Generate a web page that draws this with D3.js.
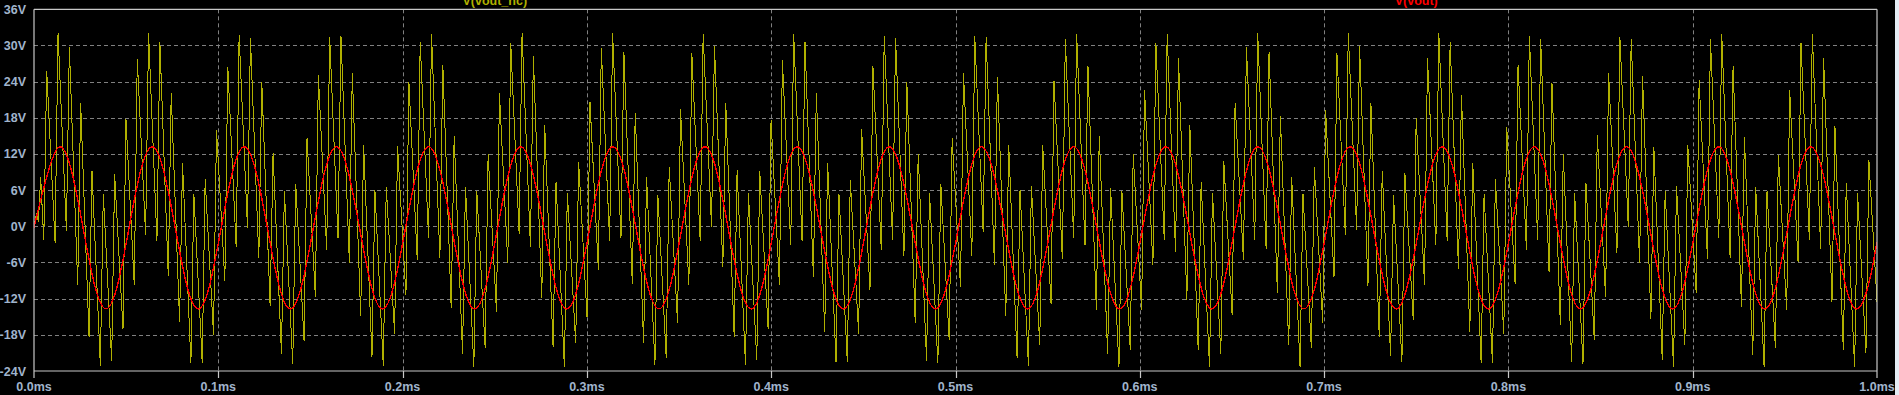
<!DOCTYPE html>
<html>
<head>
<meta charset="utf-8">
<script src="https://cdnjs.cloudflare.com/ajax/libs/d3/7.8.5/d3.min.js"></script>
<style>
  html, body { margin: 0; padding: 0; background: #000; overflow: hidden; }
  svg { display: block; }
</style>
</head>
<body>
<script>
// ---------- data ----------
const xTicks = [0.0, 0.1, 0.2, 0.3, 0.4, 0.5, 0.6, 0.7, 0.8, 0.9, 1.0];       // ms
const xTickLabels = ["0.0ms","0.1ms","0.2ms","0.3ms","0.4ms","0.5ms","0.6ms","0.7ms","0.8ms","0.9ms","1.0ms"];
const yTicks = [-24, -18, -12, -6, 0, 6, 12, 18, 24, 30, 36];                  // V
const yTickLabels = ["-24V","-18V","-12V","-6V","0V","6V","12V","18V","24V","30V","36V"];
const seriesNames = ["V(vout_nc)", "V(vout)"];

// V(vout): red 20 kHz sine, sampled every 1/8 period (first point at t=0, last at t=1ms)
const voutStart = 0.0016, voutStep = 0.00625;
const voutV = [-0.3,
  1.9, 9.2, 13.2, 9.2, -0.2, -9.7, -13.7, -9.7,
  -0.2, 9.2, 13.2, 9.2, -0.2, -9.7, -13.7, -9.7,
  -0.2, 9.2, 13.2, 9.2, -0.2, -9.7, -13.7, -9.7,
  -0.2, 9.2, 13.2, 9.2, -0.2, -9.7, -13.7, -9.7,
  -0.2, 9.2, 13.2, 9.2, -0.2, -9.7, -13.7, -9.7,
  -0.2, 9.2, 13.2, 9.2, -0.2, -9.7, -13.7, -9.7,
  -0.2, 9.2, 13.2, 9.2, -0.2, -9.7, -13.7, -9.7,
  -0.2, 9.2, 13.2, 9.2, -0.2, -9.7, -13.7, -9.7,
  -0.2, 9.2, 13.2, 9.2, -0.2, -9.7, -13.7, -9.7,
  -0.2, 9.2, 13.2, 9.2, -0.2, -9.7, -13.7, -9.7,
  -0.2, 9.2, 13.2, 9.2, -0.2, -9.7, -13.7, -9.7,
  -0.2, 9.2, 13.2, 9.2, -0.2, -9.7, -13.7, -9.7,
  -0.2, 9.2, 13.2, 9.2, -0.2, -9.7, -13.7, -9.7,
  -0.2, 9.2, 13.2, 9.2, -0.2, -9.7, -13.7, -9.7,
  -0.2, 9.2, 13.2, 9.2, -0.2, -9.7, -13.7, -9.7,
  -0.2, 9.2, 13.2, 9.2, -0.2, -9.7, -13.7, -9.7,
  -0.2, 9.2, 13.2, 9.2, -0.2, -9.7, -13.7, -9.7,
  -0.2, 9.2, 13.2, 9.2, -0.2, -9.7, -13.7, -9.7,
  -0.2, 9.2, 13.2, 9.2, -0.2, -9.7, -13.7, -9.7,
  -0.2, 9.2, 13.2, 9.2, -0.2, -9.7, -13.7, -9.7,
  -2.6];

// V(vout_nc): yellow trace, one peak and one trough per ripple cycle
const ncStartT = [0, 0.0014, 0.0024, 0.0036];
const ncStartV = [0, 2.2, 0.8, 8.2];
const ncFirstPeak = 0.0069, ncCycle = 0.006141, ncRise = 0.0016;
const ncPeaks = [
  25.8, 32.0, 29.8, 20.5, 9.2, 5.4, 8.7, 17.8, 27.7, 32.0, 30.5, 22.1, 10.5, 5.4, 7.8, 16.0,
  26.5, 31.7, 31.2, 24.0, 12.1, 5.8, 7.1, 14.6, 25.1, 31.4, 31.6, 25.4, 13.5, 6.0, 6.5, 13.3,
  24.0, 30.6, 31.9, 26.7, 15.0, 6.6, 5.9, 12.0, 22.1, 30.4, 32.0, 28.2, 16.8, 7.4, 5.6, 10.7,
  20.7, 29.5, 32.0, 28.9, 18.8, 8.2, 5.2, 9.9, 19.4, 28.7, 31.9, 29.9, 20.4, 9.3, 5.5, 9.1,
  17.6, 27.6, 31.9, 30.5, 22.1, 10.5, 5.4, 7.7, 16.1, 26.6, 31.6, 31.2, 23.9, 12.0, 5.6, 7.1,
  14.6, 25.4, 31.5, 31.4, 24.7, 13.5, 6.1, 6.7, 13.5, 24.1, 31.0, 31.9, 26.6, 15.0, 6.3, 5.9, 12.0,
  22.6, 30.4, 31.9, 27.9, 16.8, 7.4, 5.6, 10.9, 20.5, 29.7, 32.0, 29.0, 18.3, 8.2, 5.4, 9.9,
  19.3, 28.7, 32.0, 29.9, 20.4, 9.2, 5.2, 8.9, 17.9, 27.9, 32.0, 30.5, 21.8, 10.5, 5.4, 7.8,
  16.5, 26.8, 31.6, 31.0, 23.7, 12.0, 5.5, 7.2, 15.2, 25.5, 31.4, 31.0, 24.9, 13.2, 5.9, 6.7,
  13.5, 24.2, 31.0, 31.9, 26.6, 14.8, 6.5, 5.9, 11.8, 22.6, 30.4, 31.9, 27.9, 16.6, 7.2, 5.5, 11.0
];
const ncTroughs = [
  -2.2, -2.7, -0.7, -9.8, -18.4, -23.1, -22.3, -17.1, -9.8, -1.5, -2.4, -8.2, -15.8, -22.7, -22.6, -18.0,
  -9.0, -3.5, -0.3, -5.3, -13.2, -21.1, -22.8, -19.0, -11.7, -4.0, -2.0, -6.0, -14.9, -21.6, -23.1, -17.8,
  -11.4, -5.6, -2.0, -5.3, -13.6, -21.1, -23.3, -20.2, -14.2, -6.1, -1.2, -3.4, -11.9, -20.0, -23.4, -19.4,
  -15.0, -7.2, -2.5, -2.0, -9.5, -19.4, -23.0, -21.9, -16.1, -9.7, -2.5, -0.1, -6.7, -18.3, -23.0, -22.2,
  -17.0, -9.7, -3.1, -2.5, -8.4, -17.5, -22.5, -22.5, -17.8, -10.6, -3.9, -2.3, -5.0, -16.1, -22.3, -22.7,
  -18.9, -10.0, -4.9, -0.9, -6.4, -14.9, -21.9, -23.2, -19.7, -12.9, -5.5, -2.0, -3.1, -13.8, -21.2, -23.3, -20.5,
  -13.9, -6.4, -2.2, -4.2, -12.2, -20.5, -23.4, -21.1, -14.7, -5.6, -2.2, -3.7, -11.1, -19.7, -23.3, -20.2,
  -16.0, -8.4, -1.4, -0.6, -9.9, -18.4, -21.5, -22.5, -15.5, -9.7, -3.1, -2.5, -7.1, -17.6, -22.7, -22.6,
  -17.8, -9.5, -3.9, -2.3, -7.5, -16.4, -22.5, -22.8, -18.9, -11.8, -4.5, -0.1, -6.1, -15.3, -22.1, -23.3,
  -19.7, -11.1, -5.5, -2.0, -5.3, -13.3, -21.4, -23.3, -20.2, -13.9, -5.9, -2.2, -3.7, -12.5, -20.5, -23.4, -21.0
];
const ncEndT = 1.0, ncEndV = -12.5;

// ---------- build point lists ----------
const voutPts = voutV.map((v, i) => {
  let t;
  if (i === 0) t = 0;
  else if (i === voutV.length - 1) t = 1.0;
  else t = voutStart + (i - 1) * voutStep;
  return [t, v];
});
const ncPts = ncStartT.map((t, i) => [t, ncStartV[i]]);
ncPeaks.forEach((p, n) => {
  const tp = ncFirstPeak + n * ncCycle;
  ncPts.push([tp - ncRise, ncTroughs[n]]);
  ncPts.push([tp, p]);
});
ncPts.push([ncEndT, ncEndV]);

// ---------- drawing ----------
const W = 1899, H = 395;
const pLeft = 34, pRight = 1877, pTop = 9.33, pBottom = 371;
const COL_AXIS = "#c8c8c8", COL_GRID = "#808080", COL_TEXT = "#a0b4cc";
const COL_NC = "#b0b000", COL_OUT = "#ff0000";
const FONT = "'Liberation Sans', Arial, sans-serif";

const svg = d3.select("body").append("svg").attr("width", W).attr("height", H);
svg.append("rect").attr("width", W).attr("height", H).attr("fill", "#000");
svg.append("rect").attr("x", 1895).attr("y", 0).attr("width", 4).attr("height", H).attr("fill", "#e4ecf4");

const x = d3.scaleLinear().domain([0, 1]).range([pLeft, pRight]);
const y = d3.scaleLinear().domain([-24, 36]).range([pBottom, pTop]);

// grid
const grid = svg.append("g").attr("stroke", COL_GRID).attr("stroke-width", 1).attr("stroke-dasharray", "4,3");
grid.selectAll("line.h").data(yTicks.slice(1, -1)).join("line")
  .attr("x1", pLeft).attr("x2", pRight)
  .attr("y1", d => Math.round(y(d)) + 0.5).attr("y2", d => Math.round(y(d)) + 0.5);
grid.selectAll("line.v").data(xTicks.slice(1, -1)).join("line")
  .attr("y1", pTop).attr("y2", pBottom)
  .attr("x1", d => Math.round(x(d)) + 0.5).attr("x2", d => Math.round(x(d)) + 0.5);

// traces (no anti-aliasing, like the simulator's plot window)
svg.append("clipPath").attr("id", "clip").append("rect")
  .attr("x", pLeft).attr("y", pTop).attr("width", pRight - pLeft).attr("height", pBottom - pTop);
const plot = svg.append("g").attr("clip-path", "url(#clip)");
const lineNc = d3.line().x(d => x(d[0])).y(d => y(d[1]));
const lineOut = d3.line().x(d => x(d[0])).y(d => y(d[1])).curve(d3.curveNatural);
plot.append("path").datum(ncPts).attr("d", lineNc)
  .attr("fill", "none").attr("stroke", COL_NC).attr("stroke-width", 1)
  .attr("shape-rendering", "crispEdges");
plot.append("path").datum(voutPts).attr("d", lineOut)
  .attr("fill", "none").attr("stroke", COL_OUT).attr("stroke-width", 1.4)
  .attr("shape-rendering", "crispEdges");

// frame and axes
const frame = svg.append("g").attr("stroke", COL_AXIS).attr("stroke-width", 1.2).attr("fill", "none");
frame.append("line").attr("x1", pLeft).attr("x2", pRight).attr("y1", pTop).attr("y2", pTop);
frame.append("line").attr("x1", pLeft).attr("x2", pRight).attr("y1", pBottom).attr("y2", pBottom);
frame.append("line").attr("x1", pLeft).attr("x2", pLeft).attr("y1", pTop).attr("y2", pBottom + 7);
frame.append("line").attr("x1", pRight).attr("x2", pRight).attr("y1", pTop).attr("y2", pBottom + 7);
frame.selectAll("line.tick").data(xTicks.slice(1, -1)).join("line")
  .attr("x1", d => Math.round(x(d)) + 0.5).attr("x2", d => Math.round(x(d)) + 0.5)
  .attr("y1", pBottom).attr("y2", pBottom + 7);

// tick labels
svg.append("g").selectAll("text").data(yTicks).join("text")
  .attr("x", 26).attr("y", d => y(d)).attr("dy", "0.36em")
  .attr("text-anchor", "end").attr("fill", COL_TEXT)
  .attr("font-family", FONT).attr("font-size", "12.5px").attr("font-weight", "bold")
  .text((d, i) => yTickLabels[i]);
svg.append("g").selectAll("text").data(xTicks).join("text")
  .attr("x", d => x(d)).attr("y", 391)
  .attr("text-anchor", "middle").attr("fill", COL_TEXT)
  .attr("font-family", FONT).attr("font-size", "12.5px").attr("font-weight", "bold")
  .text((d, i) => xTickLabels[i]);

// trace names (partly cut at top as in the reference)
svg.append("text").attr("x", x(0.25)).attr("y", 4.5).attr("text-anchor", "middle")
  .attr("fill", COL_NC).attr("font-family", FONT).attr("font-size", "12.5px").attr("font-weight", "bold")
  .text(seriesNames[0]);
svg.append("text").attr("x", x(0.75)).attr("y", 4.5).attr("text-anchor", "middle")
  .attr("fill", COL_OUT).attr("font-family", FONT).attr("font-size", "12.5px").attr("font-weight", "bold")
  .text(seriesNames[1]);
</script>
</body>
</html>
